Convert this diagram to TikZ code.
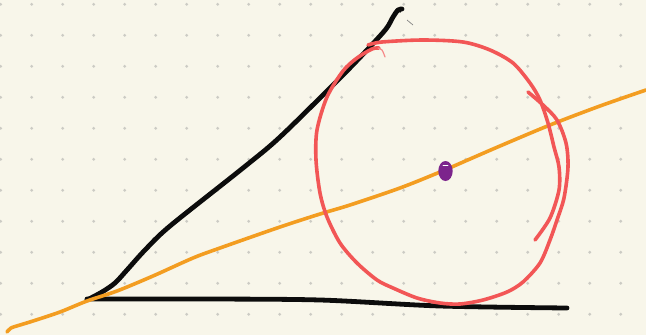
\documentclass[tikz,border=0pt]{standalone}
\usepackage{tikz}
\definecolor{bgcream}{RGB}{248,246,234}
\definecolor{griddot}{RGB}{204,203,196}
\definecolor{inkblack}{RGB}{12,12,12}
\definecolor{inkorange}{RGB}{243,157,33}
\definecolor{inkred}{RGB}{242,86,86}
\definecolor{inkpurple}{RGB}{124,36,140}
\tikzset{
  blackstroke/.style={draw=inkblack,line width=4.8pt,line cap=round,line join=round},
  orangestroke/.style={draw=inkorange,line width=3.6pt,line cap=round,line join=round},
  redstroke/.style={draw=inkred,line width=3.6pt,line cap=round,line join=round},
}
\begin{document}
\begin{tikzpicture}[x=1pt,y=-1pt]
\fill[bgcream] (0,0) rectangle (646,335);
\useasboundingbox (0,0) rectangle (646,335);
% dot grid
\foreach \i in {0,...,20}{
  \foreach \j in {0,...,10}{
    \fill[griddot] (0.7+31*\i,4.3+31*\j) circle (1.6);
  }
}
% black sides of the angle
\draw[blackstroke] plot[smooth,tension=0.5] coordinates {(87,300) (102,292) (115,283) (127,270) (145,250) (170,226) (243,168) (280,137) (340,78) (367,50) (386,29) (393,17) (398,10) (402,9)};
\draw[inkblack,line width=1.6pt,line cap=round] (402,9) -- (400,12);
\draw[blackstroke] plot[smooth,tension=0.5] coordinates {(87,299) (200,299) (320,300) (440,306) (567,308)};
\draw[gray,line width=0.7pt] (407,20) -- (413,25);
% bisector
\draw[orangestroke] plot[smooth,tension=0.5] coordinates {(7,332) (11,328) (20,325) (33,321) (60,312) (87,301) (117,291) (153,276) (193,258) (220,248) (280,227) (320,214) (350,205) (400,188) (440,172) (470,159) (500,146) (550,125) (600,106) (646,90)};
% circle strokes
\draw[redstroke] plot[smooth,tension=0.5] coordinates {(528,92) (543,105) (557,120) (566,143) (568,167) (564,198) (557,220) (550,240) (540,263) (523,282) (507,292) (483,300) (460,304) (440,303) (417,298) (393,288) (377,280) (357,263) (340,243) (327,217) (320,193) (316,160) (317,130) (327,97) (343,71) (357,58) (372,49) (379,48)};
\draw[inkred!70,line width=1.2pt,line cap=round] plot[smooth,tension=0.6] coordinates {(378,48) (382,50) (385,57)};
\draw[redstroke] plot[smooth,tension=0.5] coordinates {(368,45) (382,42) (423,40) (463,42) (490,50) (513,63) (530,83) (540,100) (548,123) (554,147) (559,167) (559,190) (550,218) (535,240)};
% centre
\fill[inkpurple] (445.5,171) ellipse (7.2 and 10);
\draw[white,line width=0.9pt,line cap=round] (443,165.5) -- (448,165.5);
\end{tikzpicture}
\end{document}
